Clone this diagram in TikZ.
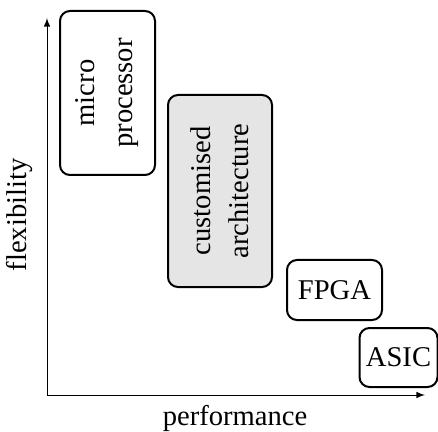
\documentclass[tikz,border=0pt]{standalone}
\usepackage{fontspec}
\setmainfont{Liberation Serif}
\tikzset{
  archbox/.style={draw,line width=1pt,rounded corners=5pt,rotate=90,align=center,inner sep=0pt},
  axislabel/.style={inner sep=0pt},
}

\begin{document}
\begin{tikzpicture}[x=0.5pt,y=-0.5pt,font=\fontsize{14.3}{19}\selectfont]
  \useasboundingbox (0,0) rectangle (438,432);
  \coordinate (O) at (47,395);
  \coordinate (Y) at (47,18);
  \coordinate (X) at (425,395);
  \draw[-latex,line width=0.5pt] (O) -- (Y);
  \draw[-latex,line width=0.5pt] (O) -- (X);
  \node[axislabel,rotate=90] (flex) at (20,215) {flexibility};
  \node[axislabel] (perf) at (235,418) {performance};
  \node[archbox,fill=white,minimum width=82pt,minimum height=47.5pt] (mp) at (107.5,93) {micro\\processor};
  \node[archbox,fill=gray!20,minimum width=96pt,minimum height=52pt] (ca) at (220,191) {customised\\architecture};
  \node[archbox,rotate=-90,minimum width=47.5pt,minimum height=30pt] (fpga) at (334.5,290) {FPGA};
  \node[archbox,rotate=-90,minimum width=39pt,minimum height=29.5pt] (asic) at (398.5,357.5) {ASIC};
\end{tikzpicture}
\end{document}
